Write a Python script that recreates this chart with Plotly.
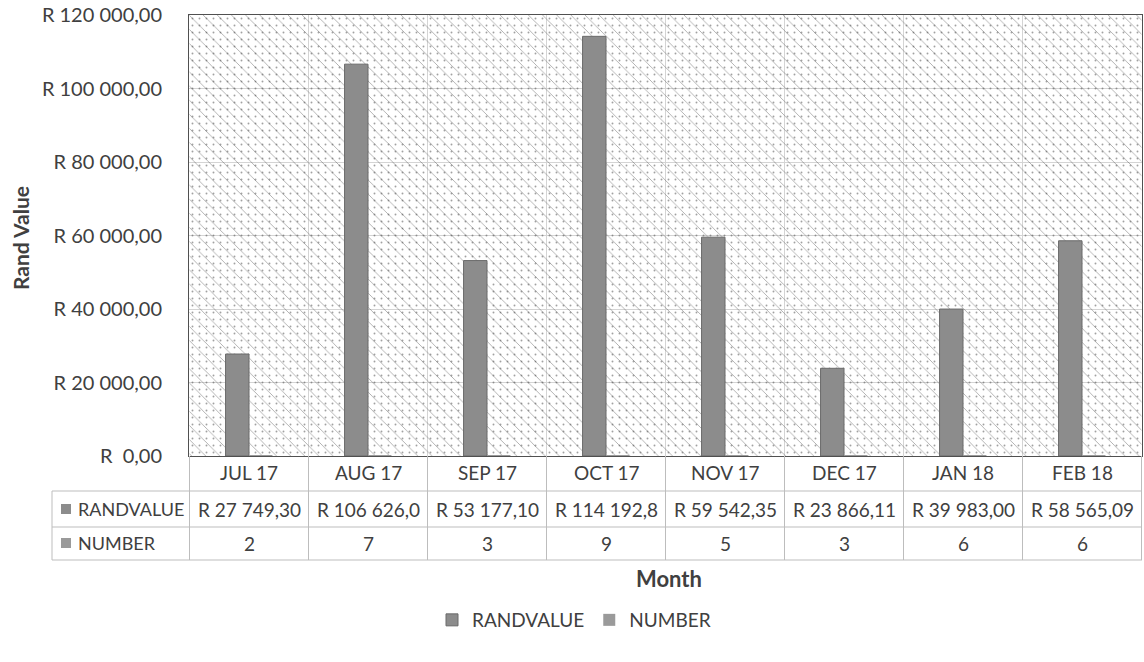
import plotly.graph_objects as go

# Monthly rand value and number of items, Jul 2017 - Feb 2018
months = ["JUL 17", "AUG 17", "SEP 17", "OCT 17", "NOV 17", "DEC 17", "JAN 18", "FEB 18"]
rand_value = [27749.30, 106626.00, 53177.10, 114192.80, 59542.35, 23866.11, 39983.00, 58565.09]
number = [2, 7, 3, 9, 5, 3, 6, 6]
y_ticks = [0, 20000, 40000, 60000, 80000, 100000, 120000]

W, H = 1144, 662
L, R, T, B = 189, 1142, 15, 456          # plot area in pixels
FONT = "Lato"
TXT = "#404040"
BAR = "#8c8c8c"
BAR2 = "#9a9a9a"
GRID = "#d4d4d4"


def px(p):
    return (p - L) / (R - L)


def py(p):
    return (B - p) / (B - T)


def rand_fmt(v, cell_chars=None):
    s = f"{v:,.2f}".replace(",", " ").replace(".", ",")
    s = "R " + s if v else "R  " + s
    return s[:cell_chars] if cell_chars else s


fig = go.Figure()

# hatched plot-area fill (diagonal lines + fine dots)
ymax = y_ticks[-1]
fig.add_trace(go.Bar(
    x=months, y=[ymax] * len(months), width=1, showlegend=False, hoverinfo="skip",
    marker=dict(color="#c6c6c6", line=dict(width=0),
                pattern=dict(shape="\\", size=10, solidity=0.08, bgcolor="rgba(0,0,0,0)")),
))
fig.add_trace(go.Bar(
    x=months, y=[ymax] * len(months), width=1, showlegend=False, hoverinfo="skip",
    marker=dict(color="#d6d6d6", line=dict(width=0),
                pattern=dict(shape=".", size=7, solidity=0.06, bgcolor="rgba(0,0,0,0)")),
))

bw = 0.197
fig.add_trace(go.Bar(
    x=months, y=rand_value, name="RANDVALUE", width=bw, offset=-bw,
    marker=dict(color=BAR, line=dict(color="#6a6a6a", width=1)),
))
fig.add_trace(go.Bar(
    x=months, y=number, name="NUMBER", width=bw, offset=0,
    marker=dict(color=BAR2, line=dict(width=0)),
))

shapes = []
annotations = []
TS = 19  # table text size

# data table below the plot
row_lines = [491, 527, 560]
row_centers = {"cat": 473, "RANDVALUE": 509, "NUMBER": 543}
tbl_left = 52
line_style = dict(color="#bdbdbd", width=1)

for yl in row_lines:
    shapes.append(dict(type="line", xref="paper", yref="paper", x0=px(tbl_left), x1=px(R),
                       y0=py(yl), y1=py(yl), line=line_style))
shapes.append(dict(type="line", xref="paper", yref="paper", x0=px(tbl_left), x1=px(tbl_left),
                   y0=py(row_lines[0]), y1=py(row_lines[-1]), line=line_style))
for i in range(len(months) + 1):
    shapes.append(dict(type="line", xref="x", yref="paper", x0=i - 0.5, x1=i - 0.5,
                       y0=py(B), y1=py(row_lines[-1]), line=line_style))


def cell(x, y, text, **kw):
    d = dict(x=x, xref="x", y=py(y), yref="paper", text=text, showarrow=False,
             xanchor="center", yanchor="middle", font=dict(size=TS))
    d.update(kw)
    annotations.append(d)


for i, m in enumerate(months):
    cell(m, row_centers["cat"], m)
    cell(m, row_centers["RANDVALUE"], rand_fmt(rand_value[i], 11))
    cell(m, row_centers["NUMBER"], str(number[i]))

for name, col in (("RANDVALUE", BAR), ("NUMBER", BAR2)):
    yc = row_centers[name]
    shapes.append(dict(type="rect", xref="paper", yref="paper", x0=px(61), x1=px(71),
                       y0=py(yc + 5), y1=py(yc - 5), fillcolor=col, line=dict(width=0)))
    cell(px(76), yc, name, xref="paper", xanchor="left", font=dict(size=18))

# axis titles
annotations.append(dict(x=px(20), xref="paper", y=py(238), yref="paper", text="<b>Rand Value</b>",
                        textangle=-90, showarrow=False, xanchor="center", yanchor="middle",
                        font=dict(size=21)))
annotations.append(dict(x=px(669), xref="paper", y=py(578), yref="paper", text="<b>Month</b>",
                        showarrow=False, xanchor="center", yanchor="middle", font=dict(size=22)))

fig.update_layout(
    width=W, height=H,
    margin=dict(l=L, r=W - R, t=T, b=H - B, pad=0),
    paper_bgcolor="white", plot_bgcolor="white",
    barmode="overlay",
    font=dict(family=FONT, color=TXT, size=TS),
    shapes=shapes, annotations=annotations,
    showlegend=True,
    legend=dict(orientation="h", x=px(574), xanchor="center", y=py(620), yanchor="middle",
                font=dict(size=TS), itemwidth=30, traceorder="normal"),
    xaxis=dict(showticklabels=False, tickson="boundaries", showgrid=True, gridcolor=GRID,
               ticks="", showline=True, linecolor="#505050", linewidth=1, mirror=True,
               zeroline=False, fixedrange=True),
    yaxis=dict(range=[0, ymax], tickmode="array", tickvals=y_ticks,
               ticktext=[rand_fmt(v) for v in y_ticks],
               showgrid=True, gridcolor=GRID, gridwidth=1, zeroline=False,
               showline=True, linecolor="#505050", linewidth=1, mirror=True,
               ticks="", ticklabelstandoff=22, tickfont=dict(size=20)),
)

fig.write_html("out.html")
